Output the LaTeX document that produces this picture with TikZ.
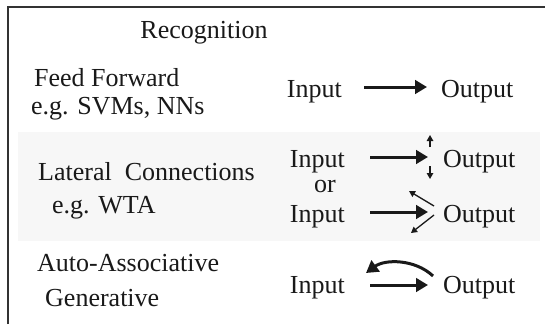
\documentclass[tikz,border=0pt]{standalone}
\usepackage{fontspec}
\setmainfont{Liberation Serif}
\usetikzlibrary{arrows.meta}
\definecolor{framegray}{HTML}{333333}
\definecolor{panelgray}{HTML}{F7F7F7}
\tikzset{
  lbl/.style={inner sep=0pt, font=\fontsize{26pt}{30pt}\selectfont, text=black!90},
  bigarrow/.style={line width=3pt, black!90, -{Triangle[length=12pt,width=13.5pt]}},
  smallarrow/.style={line width=1.3pt, black!90, -{Triangle[length=6pt,width=6.5pt]}},
}
\begin{document}
\begin{tikzpicture}[x=1pt,y=-1pt]
  \useasboundingbox (0,0) rectangle (545,324);
  % outer frame (top and left edges)
  \draw[framegray, line width=1.8pt] (8,324) -- (8,7) -- (545,7);
  % shaded band for lateral connections
  \fill[panelgray] (18,132) rectangle (540,241);

  % heading and left-hand descriptions
  \node[lbl, anchor=base] (head) at (204,38) {Recognition};
  \node[lbl, anchor=base west] (ff) at (34,86) {Feed Forward};
  \node[lbl, anchor=base west] (ffex) at (31,114) {e.g. SVMs, NNs};
  \node[lbl, anchor=base west] (lat) at (38,180) {Lateral\ \ Connections};
  \node[lbl, anchor=base west] (latex) at (52,213) {e.g. WTA};
  \node[lbl, anchor=base west] (aa) at (37,271) {Auto-Associative};
  \node[lbl, anchor=base west] (gen) at (45,306) {Generative};

  % input / output labels
  \node[lbl, anchor=base east] (in1) at (342,97) {Input};
  \node[lbl, anchor=base west] (out1) at (441,97) {Output};
  \node[lbl, anchor=base east] (in2) at (345,167) {Input};
  \node[lbl, anchor=base west] (out2) at (443,167) {Output};
  \node[lbl, anchor=base] (or) at (325,192) {or};
  \node[lbl, anchor=base east] (in3) at (345,222) {Input};
  \node[lbl, anchor=base west] (out3) at (443,222) {Output};
  \node[lbl, anchor=base east] (in4) at (345,293) {Input};
  \node[lbl, anchor=base west] (out4) at (443,293) {Output};

  % feed-forward connections
  \draw[bigarrow, shorten <=22pt, shorten >=14pt]
    ([yshift=10pt]in1.base east) -- ([yshift=10pt]out1.base west);
  \draw[bigarrow, shorten <=25pt, shorten >=15pt]
    ([yshift=10pt]in2.base east) -- ([yshift=10pt]out2.base west);
  \draw[bigarrow, shorten <=25pt, shorten >=15pt]
    ([yshift=10pt]in3.base east) -- ([yshift=10pt]out3.base west);
  \draw[bigarrow, shorten <=25pt, shorten >=15pt]
    ([yshift=8pt]in4.base east) -- ([yshift=8pt]out4.base west);

  % lateral connections, first variant
  \coordinate (upS) at (430,147);
  \coordinate (upE) at (430,135);
  \coordinate (dnS) at (430,166);
  \coordinate (dnE) at (430,179);
  \draw[smallarrow] (upS) -- (upE);
  \draw[smallarrow] (dnS) -- (dnE);

  % lateral connections, second variant
  \coordinate (d1S) at (434,206);
  \coordinate (d1E) at (409,191);
  \coordinate (d2S) at (434,215);
  \coordinate (d2E) at (411,233);
  \draw[smallarrow] (d1S) -- (d1E);
  \draw[smallarrow] (d2S) -- (d2E);

  % feedback path from output back to input
  \coordinate (fbS) at (433,276);
  \coordinate (fbE) at (366,273);
  \draw[bigarrow] (fbS) .. controls (415,259) and (385,259) .. (fbE);
\end{tikzpicture}
\end{document}
